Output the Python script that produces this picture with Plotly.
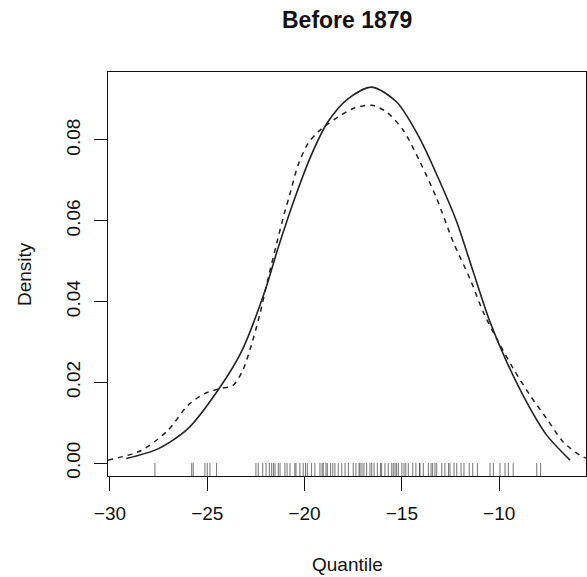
import plotly.graph_objects as go

# ---- data ----
solid_x = [-29.16, -27.53, -25.99, -24.45, -23.25, -22.05, -21.37, -20.51, -19.66, -18.80,
           -17.77, -16.55, -15.27, -14.07, -13.04, -12.18, -11.33, -10.47, -9.61, -8.59,
           -7.56, -6.36]
solid_y = [0.0011, 0.0035, 0.0085, 0.0180, 0.0275, 0.0424, 0.0531, 0.0655, 0.0762, 0.0845,
           0.0902, 0.0931, 0.0894, 0.0803, 0.0696, 0.0597, 0.0473, 0.0349, 0.0250, 0.0151,
           0.0069, 0.0007]

dashed_x = [-30.1, -28.39, -27.02, -25.99, -25.13, -24.36, -23.68, -23.17, -22.74, -22.31,
            -21.88, -21.37, -21.02, -20.77, -20.34, -19.83, -19.31, -18.80, -18.28, -17.50,
            -16.55, -15.78, -14.93, -14.07, -13.21, -12.36, -11.50, -10.82, -10.13, -9.28,
            -8.42, -7.56, -6.71, -5.85, -5.40]
dashed_y = [0.0007, 0.0031, 0.0081, 0.0143, 0.0172, 0.0184, 0.0192, 0.0230, 0.0291, 0.0366,
            0.0456, 0.0556, 0.0622, 0.0663, 0.0737, 0.0791, 0.0820, 0.0840, 0.0857, 0.0878,
            0.0886, 0.0869, 0.0824, 0.0746, 0.0655, 0.0547, 0.0456, 0.0374, 0.0308, 0.0234,
            0.0168, 0.0110, 0.0052, 0.0019, 0.0010]

rug_x = [-27.69, -25.80, -25.72, -25.12, -25.00, -24.86, -24.52, -22.50, -22.38, -22.15,
         -21.98, -21.81, -21.69, -21.60, -21.52, -21.35, -21.26, -21.01, -20.90, -20.75,
         -20.50, -20.44, -20.24, -20.07, -19.95, -19.86, -19.64, -19.47, -19.21, -19.10,
         -19.04, -18.90, -18.83, -18.66, -18.55, -18.44, -18.27, -18.09, -17.92, -17.75,
         -17.50, -17.36, -17.20, -17.15, -17.05, -16.95, -16.81, -16.64, -16.55, -16.43,
         -16.26, -16.10, -16.04, -15.87, -15.70, -15.52, -15.44, -15.35, -15.27, -15.18,
         -15.00, -14.89, -14.80, -14.67, -14.44, -14.28, -14.10, -14.07, -13.90, -13.64,
         -13.50, -13.42, -13.30, -13.21, -12.95, -12.79, -12.60, -12.53, -12.32, -12.18,
         -11.96, -11.81, -11.54, -11.36, -11.12, -10.47, -10.30, -9.96, -9.70, -9.53,
         -9.28, -8.07, -7.87]

x_ticks = [-30, -25, -20, -15, -10]
x_tick_labels = ["\u221230", "\u221225", "\u221220", "\u221215", "\u221210"]
y_ticks = [0.00, 0.02, 0.04, 0.06, 0.08]
x_range = [-30.10, -5.54]
y_range = [-0.00322, 0.09684]

title_text = "Before 1879"
x_title = "Quantile"
y_title = "Density"

FONT = "Liberation Sans, Arial, Helvetica, sans-serif"

# rug ticks from bottom of plot region up a fixed fraction of the y span
rug_len = 0.0322 * (y_range[1] - y_range[0])
rx, ry = [], []
for v in rug_x:
    rx += [v, v, None]
    ry += [y_range[0], y_range[0] + rug_len, None]

fig = go.Figure()
fig.add_trace(go.Scatter(x=rx, y=ry, mode="lines",
                         line=dict(color="rgba(0,0,0,0.55)", width=1),
                         hoverinfo="skip", showlegend=False))
fig.add_trace(go.Scatter(x=dashed_x, y=dashed_y, mode="lines",
                         line=dict(color="#222222", width=1.5, dash="5px,5px", shape="spline", smoothing=0.8),
                         showlegend=False))
fig.add_trace(go.Scatter(x=solid_x, y=solid_y, mode="lines",
                         line=dict(color="#222222", width=1.6, shape="spline", smoothing=0.8),
                         showlegend=False))

fig.update_layout(
    width=587, height=577,
    margin=dict(l=108, r=1, t=72, b=101),
    paper_bgcolor="white", plot_bgcolor="white",
    font=dict(family=FONT, size=19, color="#111111"),
    showlegend=False,
    xaxis=dict(range=x_range, tickvals=x_ticks, ticktext=x_tick_labels,
               showgrid=False, zeroline=False, showline=True, linecolor="#111111",
               linewidth=1, mirror=True, ticks="outside", ticklen=14, tickwidth=1,
               tickcolor="#111111", ticklabelstandoff=6),
    yaxis=dict(range=y_range, tickvals=y_ticks, tickformat=".2f",
               showgrid=False, zeroline=False, showline=True, linecolor="#111111",
               linewidth=1, mirror=True, ticks="outside", ticklen=13, tickwidth=1,
               tickcolor="#111111", tickangle=-90, ticklabelstandoff=6),
    annotations=[
        dict(text="<b>" + title_text + "</b>", xref="paper", yref="paper",
             x=0.5, y=1 + 52 / 404, xanchor="center", yanchor="middle",
             showarrow=False, font=dict(family=FONT, size=23, color="#111111")),
        dict(text=x_title, xref="paper", yref="paper",
             x=0.5, y=-(564 - 476) / 404, xanchor="center", yanchor="middle",
             showarrow=False, font=dict(family=FONT, size=19, color="#111111")),
        dict(text=y_title, xref="paper", yref="paper",
             x=-(108 - 24) / 478, y=0.5, xanchor="center", yanchor="middle",
             textangle=-90, showarrow=False, font=dict(family=FONT, size=19, color="#111111")),
    ],
)

fig.write_html("out.html")
